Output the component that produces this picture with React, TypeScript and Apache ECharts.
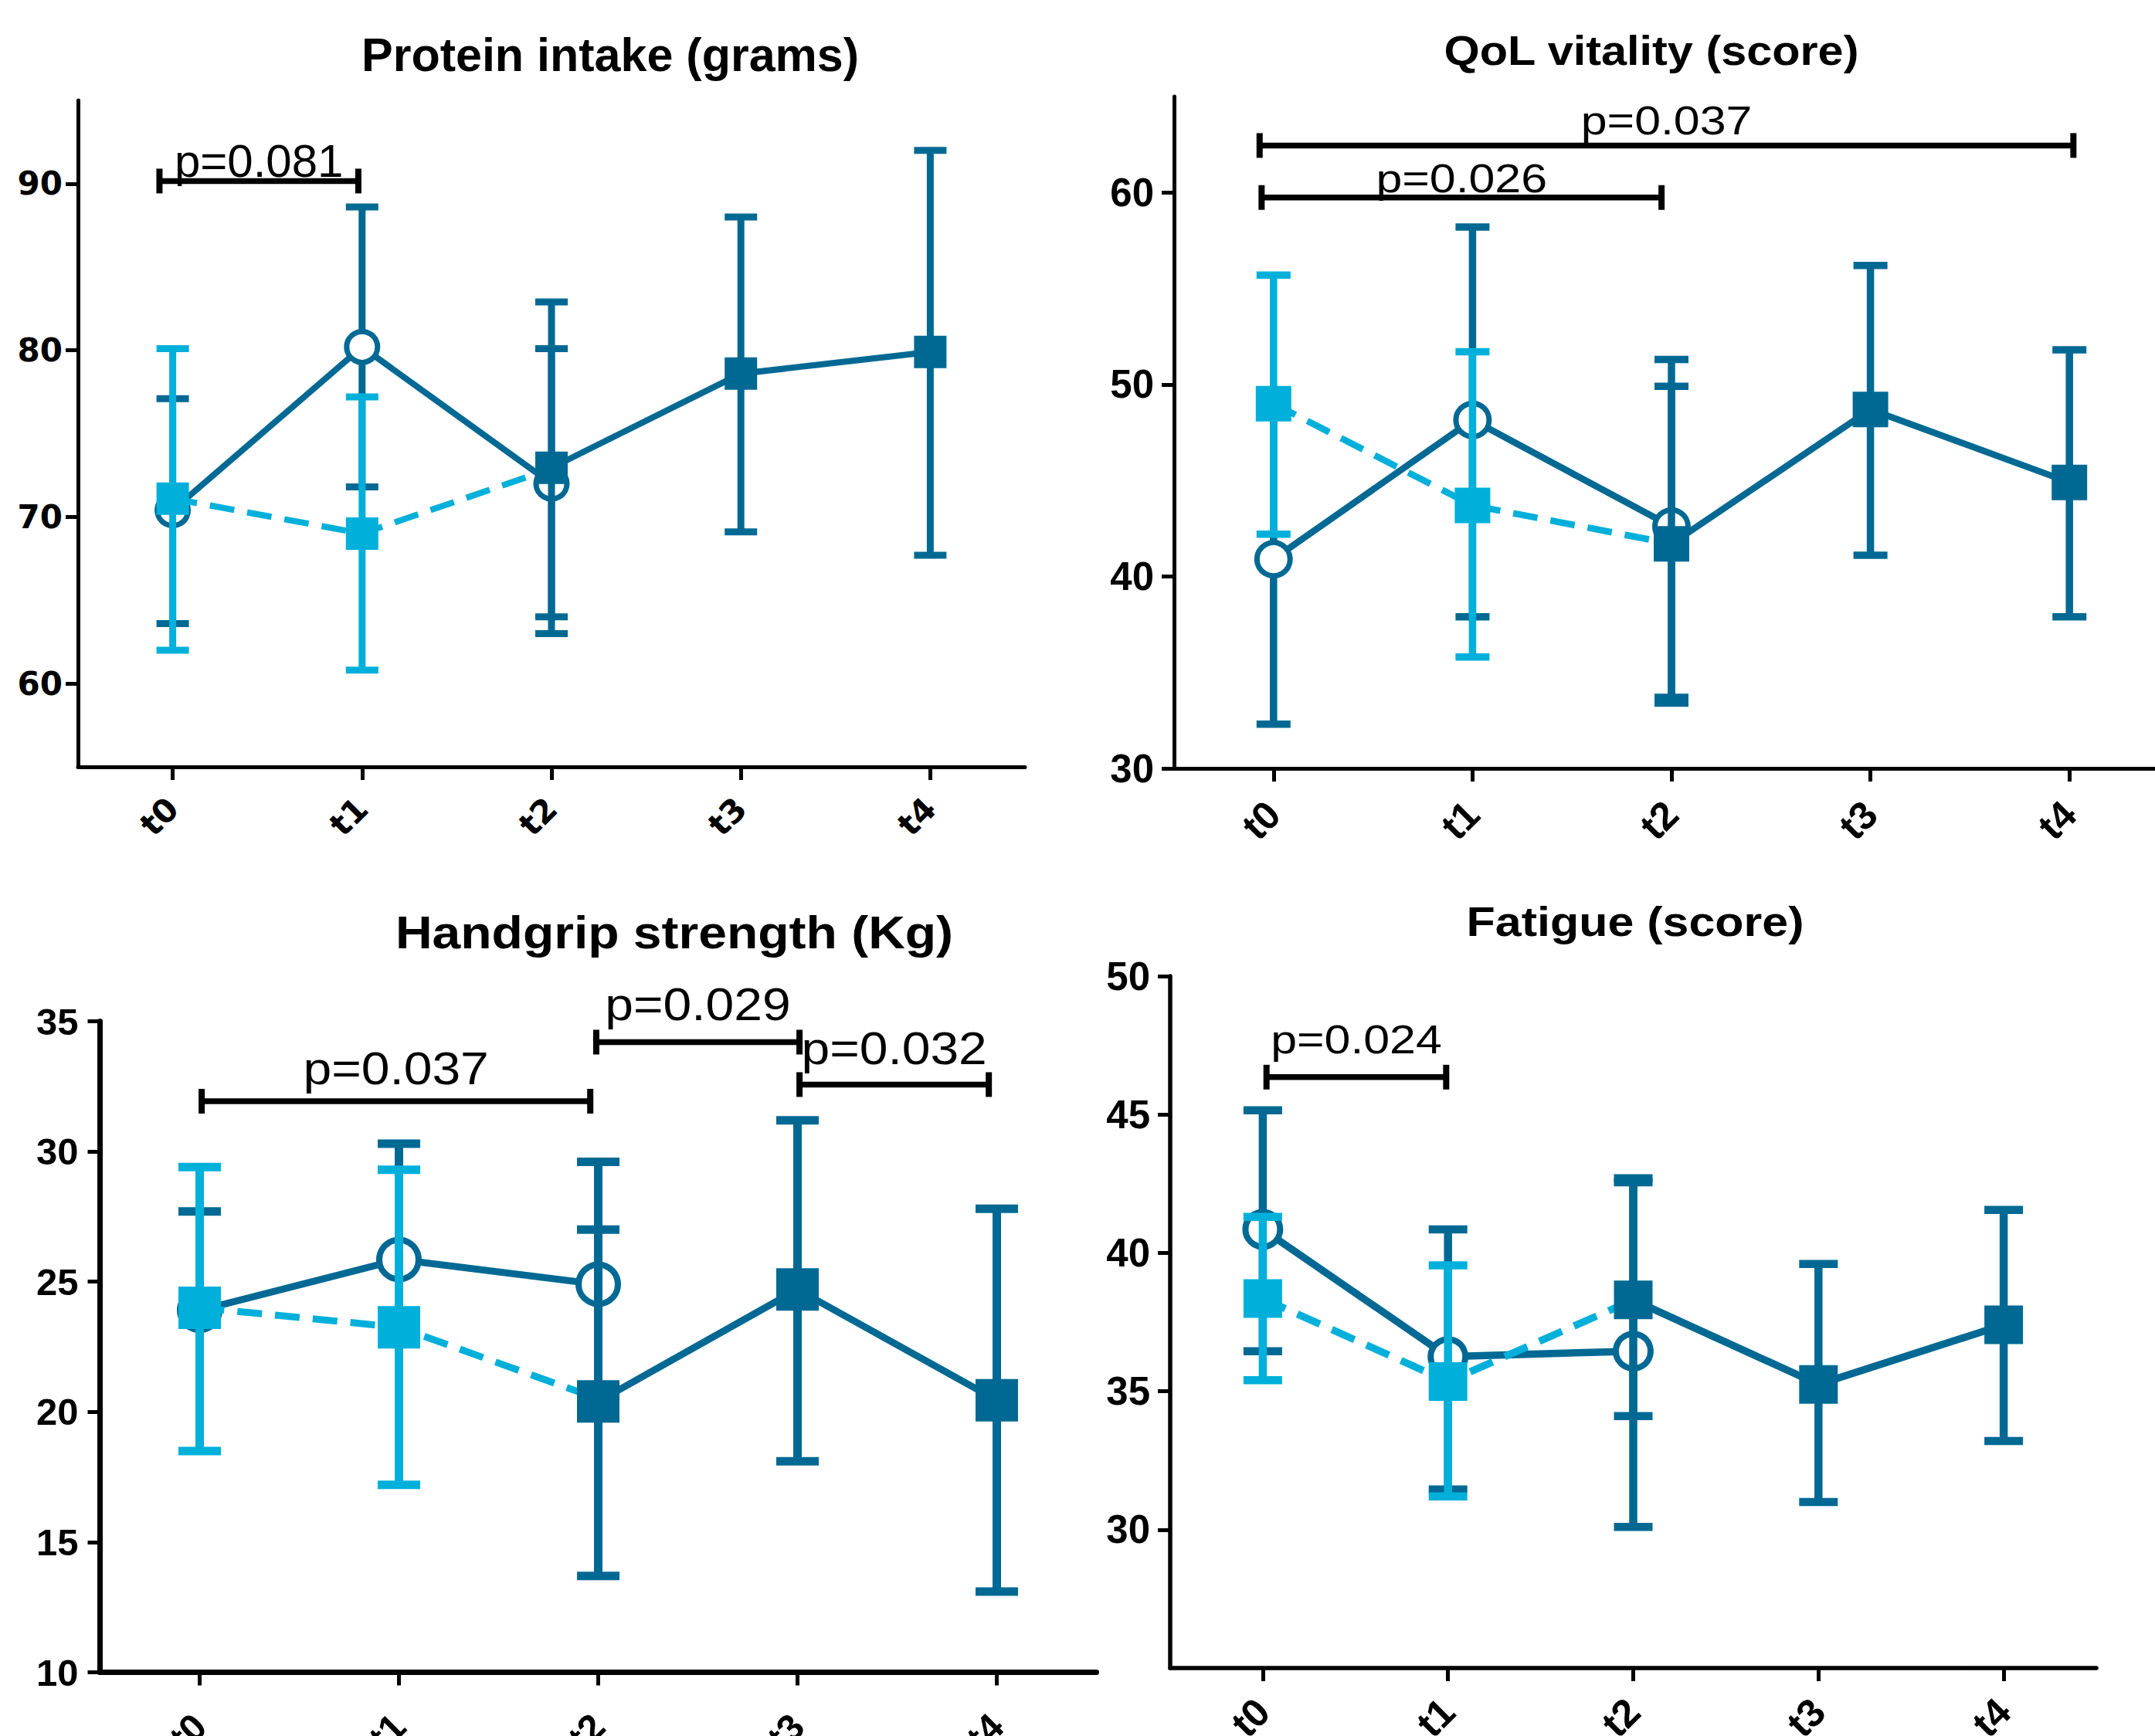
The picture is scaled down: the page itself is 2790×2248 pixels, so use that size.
import React, { useEffect, useRef } from 'react';
import * as echarts from 'echarts';

const categories = ['t0', 't1', 't2', 't3', 't4'];

// Panel 1: Protein intake (grams)
const p1CircleMean = [70.4, 80.2, 72.0];
const p1CircleLow = [63.6, 71.8, 64.0];
const p1CircleHigh = [77.1, 88.6, 80.1];
const p1LightMean = [71.1, 69.0, 72.9];
const p1LightLow = [62.0, 60.8];
const p1LightHigh = [80.1, 77.2];
const p1SquareMean = [72.95, 78.6, 79.9];
const p1SquareLow = [63.0, 69.1, 67.7];
const p1SquareHigh = [82.9, 88.0, 92.0];
const p1Ticks = [60, 70, 80, 90];
const p1Brackets = [{ from: -0.07, to: 0.98, y: 90.16, label: 'p=0.081', labelY: 90.38 }];

// Panel 2: QoL vitality (score)
const p2CircleMean = [40.9, 48.15, 42.6];
const p2CircleLow = [32.3, 37.9, 33.7];
const p2CircleHigh = [49.6, 58.2, 51.3];
const p2LightMean = [49.0, 43.7, 41.7];
const p2LightLow = [42.2, 35.8];
const p2LightHigh = [55.7, 51.7];
const p2SquareMean = [41.7, 48.7, 44.9];
const p2SquareLow = [33.4, 41.1, 37.9];
const p2SquareHigh = [49.9, 56.2, 51.8];
const p2Ticks = [30, 40, 50, 60];
const p2Brackets = [
  { from: -0.07, to: 4.02, y: 62.45, label: 'p=0.037', labelY: 63.0 },
  { from: -0.06, to: 1.95, y: 59.74, label: 'p=0.026', labelY: 60.0 },
];

// Panel 3: Handgrip strength (Kg)
const p3CircleMean = [23.9, 25.85, 24.9];
const p3CircleLow: (number | null)[] = [null, null, null];
const p3CircleHigh = [27.7, 30.3, 27.0];
const p3LightMean = [24.0, 23.25, 20.5];
const p3LightLow = [18.5, 17.2];
const p3LightHigh = [29.4, 29.3];
const p3SquareMean = [20.4, 24.7, 20.45];
const p3SquareLow = [13.7, 18.1, 13.1];
const p3SquareHigh = [29.6, 31.2, 27.8];
const p3Ticks = [10, 15, 20, 25, 30, 35];
const p3Brackets = [
  { from: 0.01, to: 1.96, y: 31.93, label: 'p=0.037', labelY: 32.57 },
  { from: 1.99, to: 3.01, y: 34.2, label: 'p=0.029', labelY: 35.04 },
  { from: 3.01, to: 3.96, y: 32.57, label: 'p=0.032', labelY: 33.35 },
];

// Panel 4: Fatigue (score)
const p4CircleMean = [40.85, 36.25, 36.45];
const p4CircleLow = [36.45, 31.45, 30.1];
const p4CircleHigh = [45.15, 40.85, 42.7];
const p4LightMean = [38.35, 35.35, 38.3];
const p4LightLow = [35.4, 31.2];
const p4LightHigh = [41.3, 39.55];
const p4SquareMean = [38.3, 35.25, 37.4];
const p4SquareLow = [34.1, 31.0, 33.2];
const p4SquareHigh = [42.55, 39.6, 41.55];
const p4Ticks = [30, 35, 40, 45, 50];
const p4Brackets = [{ from: 0.02, to: 0.99, y: 46.35, label: 'p=0.024', labelY: 47.19 }];

const DARK = '#006993';
const LIGHT = '#00B0DA';
const FONT = '"Liberation Sans", Arial, Helvetica, sans-serif';

type Bracket = { from: number; to: number; y: number; label: string; labelY: number };

interface Look {
  tickFont: string;
  tickSize: number;
  labelMargin: number;
  yLabelMargin: number;
  axisWidth: number;
  titleSize: number;
  titleScaleX: number;
  pSize: number;
  pScaleX: number;
  square: number;
  circle: number;
  circleBorder: number;
  cap: number;
  bar: number;
  line: number;
}

interface PanelCfg {
  title: string;
  titleX: number;
  titleY: number;
  look: Look;
  grid: { left: number; top: number; width: number; height: number };
  min: number;
  max: number;
  ticks: number[];
  circleMean: number[];
  circleLow: (number | null)[];
  circleHigh: (number | null)[];
  lightMean: number[];
  lightLow: (number | null)[];
  lightHigh: (number | null)[];
  squareMean: number[];
  squareLow: (number | null)[];
  squareHigh: (number | null)[];
  brackets: Bracket[];
}

const panels: PanelCfg[] = [
  {
    title: 'Protein intake (grams)', titleX: 790, titleY: 71,
    look: {
      tickFont: '"DejaVu Sans", sans-serif', tickSize: 42, labelMargin: 47, yLabelMargin: 20, axisWidth: 5,
      titleSize: 61, titleScaleX: 1, pSize: 60, pScaleX: 1,
      square: 42, circle: 40, circleBorder: 7, cap: 42, bar: 9, line: 8,
    },
    grid: { left: 101, top: 130, width: 1226, height: 863 },
    min: 55, max: 95, ticks: p1Ticks,
    circleMean: p1CircleMean, circleLow: p1CircleLow, circleHigh: p1CircleHigh,
    lightMean: p1LightMean, lightLow: p1LightLow, lightHigh: p1LightHigh,
    squareMean: p1SquareMean, squareLow: p1SquareLow, squareHigh: p1SquareHigh,
    brackets: p1Brackets,
  },
  {
    title: 'QoL vitality (score)', titleX: 2138, titleY: 65,
    look: {
      tickFont: FONT, tickSize: 51, labelMargin: 51, yLabelMargin: 26, axisWidth: 5,
      titleSize: 54, titleScaleX: 1.1, pSize: 52, pScaleX: 1.17,
      square: 46, circle: 43, circleBorder: 7, cap: 44, bar: 9.5, line: 8.5,
    },
    grid: { left: 1520, top: 125, width: 1288, height: 870 },
    min: 30, max: 65, ticks: p2Ticks,
    circleMean: p2CircleMean, circleLow: p2CircleLow, circleHigh: p2CircleHigh,
    lightMean: p2LightMean, lightLow: p2LightLow, lightHigh: p2LightHigh,
    squareMean: p2SquareMean, squareLow: p2SquareLow, squareHigh: p2SquareHigh,
    brackets: p2Brackets,
  },
  {
    title: 'Handgrip strength (Kg)', titleX: 873, titleY: 1207,
    look: {
      tickFont: FONT, tickSize: 49, labelMargin: 62, yLabelMargin: 28, axisWidth: 7,
      titleSize: 60, titleScaleX: 1.1, pSize: 60, pScaleX: 1.1,
      square: 55, circle: 51, circleBorder: 8, cap: 55, bar: 11, line: 9,
    },
    grid: { left: 129.5, top: 1322.5, width: 1290, height: 843 },
    min: 10, max: 35, ticks: p3Ticks,
    circleMean: p3CircleMean, circleLow: p3CircleLow, circleHigh: p3CircleHigh,
    lightMean: p3LightMean, lightLow: p3LightLow, lightHigh: p3LightHigh,
    squareMean: p3SquareMean, squareLow: p3SquareLow, squareHigh: p3SquareHigh,
    brackets: p3Brackets,
  },
  {
    title: 'Fatigue (score)', titleX: 2117, titleY: 1193,
    look: {
      tickFont: FONT, tickSize: 51, labelMargin: 48, yLabelMargin: 26, axisWidth: 5.5,
      titleSize: 53, titleScaleX: 1.15, pSize: 52, pScaleX: 1.17,
      square: 50, circle: 45, circleBorder: 8, cap: 50, bar: 10.5, line: 9.5,
    },
    grid: { left: 1515, top: 1264, width: 1199, height: 896 },
    min: 25, max: 50, ticks: p4Ticks,
    circleMean: p4CircleMean, circleLow: p4CircleLow, circleHigh: p4CircleHigh,
    lightMean: p4LightMean, lightLow: p4LightLow, lightHigh: p4LightHigh,
    squareMean: p4SquareMean, squareLow: p4SquareLow, squareHigh: p4SquareHigh,
    brackets: p4Brackets,
  },
];

function errData(startIdx: number, mean: number[], low: (number | null)[], high: (number | null)[]) {
  const out: number[][] = [];
  for (let i = 0; i < low.length || i < high.length; i++) {
    const m = mean[i];
    const lo = low[i];
    const hi = high[i];
    out.push([startIdx + i, m, lo == null ? m : lo, hi == null ? m : hi, lo == null ? 0 : 1, hi == null ? 0 : 1]);
  }
  return out;
}

function errRender(color: string, look: Look) {
  return (params: any, api: any) => {
    const x = api.value(0);
    const m = api.value(1);
    const lo = api.value(2);
    const hi = api.value(3);
    const hasLo = api.value(4);
    const hasHi = api.value(5);
    const pm = api.coord([x, m]);
    const pl = api.coord([x, lo]);
    const ph = api.coord([x, hi]);
    const cap = look.cap;
    const style = { stroke: color, lineWidth: look.bar, fill: null };
    const children: any[] = [
      { type: 'line', shape: { x1: pm[0], y1: ph[1], x2: pm[0], y2: pl[1] }, style },
    ];
    if (hasHi) children.push({ type: 'line', shape: { x1: pm[0] - cap / 2, y1: ph[1], x2: pm[0] + cap / 2, y2: ph[1] }, style });
    if (hasLo) children.push({ type: 'line', shape: { x1: pm[0] - cap / 2, y1: pl[1], x2: pm[0] + cap / 2, y2: pl[1] }, style });
    return { type: 'group', children };
  };
}

function bracketRender(brackets: Bracket[], look: Look) {
  return (params: any, api: any) => {
    const b = brackets[params.dataIndex];
    const p1 = api.coord([api.value(0), api.value(2)]);
    const p2 = api.coord([api.value(1), api.value(2)]);
    const pt = api.coord([(api.value(0) + api.value(1)) / 2, api.value(3)]);
    const style = { stroke: '#000', lineWidth: 7.5, fill: null };
    const capStyle = { stroke: '#000', lineWidth: 8, fill: null };
    return {
      type: 'group',
      children: [
        { type: 'line', shape: { x1: p1[0], y1: p1[1], x2: p2[0], y2: p2[1] }, style },
        { type: 'line', shape: { x1: p1[0], y1: p1[1] - 16, x2: p1[0], y2: p1[1] + 16 }, style: capStyle },
        { type: 'line', shape: { x1: p2[0], y1: p2[1] - 16, x2: p2[0], y2: p2[1] + 16 }, style: capStyle },
        {
          type: 'text',
          x: pt[0],
          y: pt[1] - 0.35 * look.pSize,
          scaleX: look.pScaleX,
          style: {
            text: b.label,
            fill: '#000',
            font: `${look.pSize}px ${FONT}`,
            align: 'center',
            verticalAlign: 'middle',
          },
        },
      ],
    };
  };
}

function buildOption() {
  const grid: any[] = [];
  const xAxis: any[] = [];
  const yAxis: any[] = [];
  const series: any[] = [];
  const graphic: any[] = [];

  panels.forEach((p, k) => {
    const L = p.look;
    grid.push({ ...p.grid, containLabel: false, outerBoundsMode: 'none' });
    xAxis.push({
      type: 'category',
      gridIndex: k,
      data: categories,
      boundaryGap: true,
      axisLine: { show: true, onZero: false, lineStyle: { color: '#000', width: L.axisWidth } },
      axisTick: { show: true, alignWithLabel: true, length: 17, lineStyle: { color: '#000', width: 5 } },
      axisLabel: {
        rotate: 45,
        margin: L.labelMargin,
        fontSize: L.tickSize,
        fontWeight: 'bold',
        fontFamily: L.tickFont,
        color: '#000',
        interval: 0,
      },
      splitLine: { show: false },
    });
    xAxis.push({ type: 'value', gridIndex: k, min: -0.5, max: 4.5, show: false });
    yAxis.push({
      type: 'value',
      gridIndex: k,
      min: p.min,
      max: p.max,
      splitLine: { show: false },
      axisLine: { show: true, onZero: false, lineStyle: { color: '#000', width: L.axisWidth } },
      axisTick: { show: true, length: 16, lineStyle: { color: '#000', width: 5 }, customValues: p.ticks },
      axisLabel: {
        customValues: p.ticks,
        margin: L.yLabelMargin,
        fontSize: L.tickSize,
        fontWeight: 'bold',
        fontFamily: L.tickFont,
        color: '#000',
      },
    });

    const catAx = 2 * k;
    const valAx = 2 * k + 1;

    series.push({
      type: 'custom',
      xAxisIndex: catAx,
      yAxisIndex: k,
      z: 1,
      renderItem: errRender(DARK, L),
      data: errData(0, p.circleMean, p.circleLow, p.circleHigh),
    });
    series.push({
      type: 'line',
      xAxisIndex: catAx,
      yAxisIndex: k,
      z: 2,
      data: [...p.circleMean, '-', '-'],
      symbol: 'circle',
      symbolSize: L.circle,
      showAllSymbol: true,
      itemStyle: { color: '#fff', borderColor: DARK, borderWidth: L.circleBorder },
      lineStyle: { color: DARK, width: L.line },
    });
    series.push({
      type: 'custom',
      xAxisIndex: catAx,
      yAxisIndex: k,
      z: 3,
      renderItem: errRender(LIGHT, L),
      data: errData(0, p.lightMean, p.lightLow, p.lightHigh),
    });
    series.push({
      type: 'line',
      xAxisIndex: catAx,
      yAxisIndex: k,
      z: 4,
      data: [
        p.lightMean[0],
        p.lightMean[1],
        { value: p.lightMean[2], symbol: 'none' },
        '-',
        '-',
      ],
      symbol: 'rect',
      symbolSize: L.square,
      showAllSymbol: true,
      itemStyle: { color: LIGHT },
      lineStyle: { color: LIGHT, width: L.line, type: [32, 17] },
    });
    series.push({
      type: 'custom',
      xAxisIndex: catAx,
      yAxisIndex: k,
      z: 5,
      renderItem: errRender(DARK, L),
      data: errData(2, p.squareMean, p.squareLow, p.squareHigh),
    });
    series.push({
      type: 'line',
      xAxisIndex: catAx,
      yAxisIndex: k,
      z: 6,
      data: ['-', '-', ...p.squareMean],
      symbol: 'rect',
      symbolSize: L.square,
      showAllSymbol: true,
      itemStyle: { color: DARK },
      lineStyle: { color: DARK, width: L.line },
    });
    series.push({
      type: 'custom',
      xAxisIndex: valAx,
      yAxisIndex: k,
      z: 7,
      renderItem: bracketRender(p.brackets, L),
      data: p.brackets.map((b) => [b.from, b.to, b.y, b.labelY]),
    });

    graphic.push({
      type: 'text',
      x: p.titleX,
      y: p.titleY,
      scaleX: L.titleScaleX,
      style: {
        text: p.title,
        fill: '#000',
        font: `bold ${L.titleSize}px ${FONT}`,
        align: 'center',
        verticalAlign: 'middle',
      },
    });
  });

  return {
    animation: false,
    backgroundColor: '#fff',
    grid,
    xAxis,
    yAxis,
    series,
    graphic,
  };
}

export default function App() {
  const ref = useRef<HTMLDivElement>(null);
  useEffect(() => {
    if (!ref.current) return;
    const chart = echarts.init(ref.current, undefined, { renderer: 'svg' });
    chart.setOption(buildOption() as any);
    return () => chart.dispose();
  }, []);
  return (
    <div
      ref={ref}
      style={{ position: 'absolute', left: 0, top: 0, width: 2790, height: 2248, background: '#fff' }}
    />
  );
}
